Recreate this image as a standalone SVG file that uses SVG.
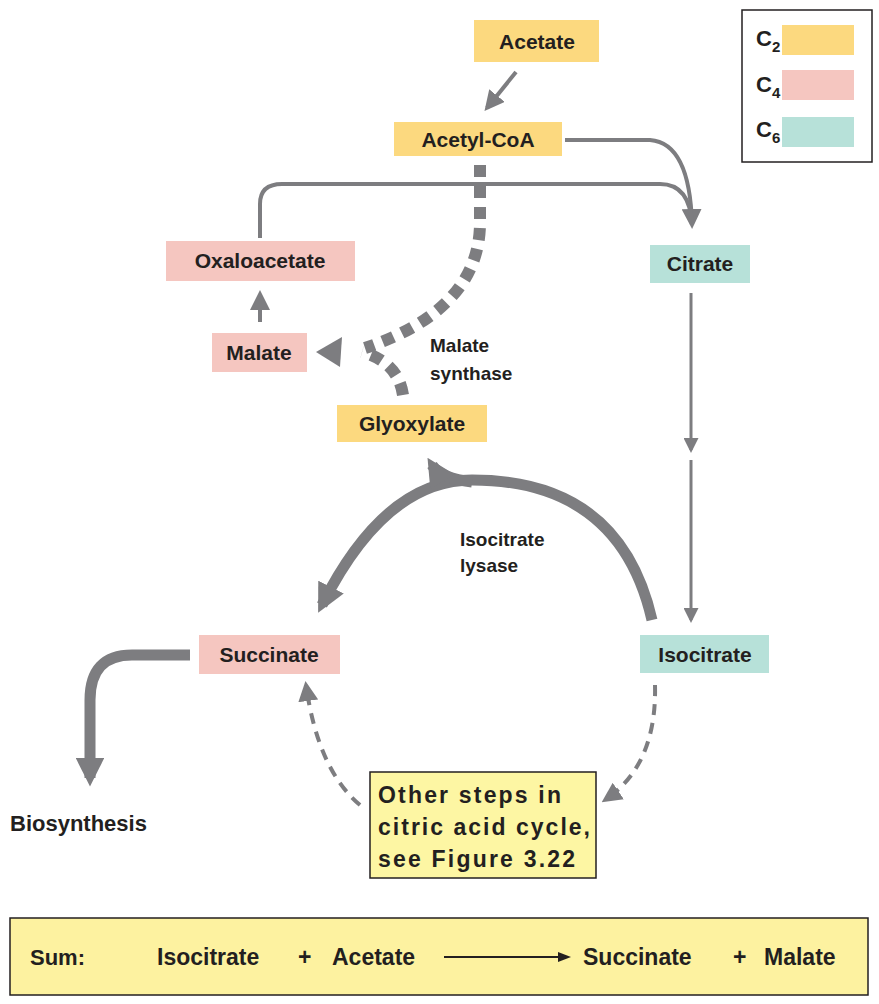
<svg xmlns="http://www.w3.org/2000/svg" width="879" height="1004" viewBox="0 0 879 1004">
<style>
text{font-family:"Liberation Sans",Arial,sans-serif;font-weight:bold;fill:#231f20}
.n{font-size:21px;text-anchor:middle}
.c2{fill:#fcd97f}.c4{fill:#f5c6c0}.c6{fill:#b7e1d9}
.ln{fill:none;stroke:#7d7d80}
.lbl{font-size:19px}
</style>
<defs>
<marker id="a" viewBox="0 0 10 10" refX="8" refY="5" markerWidth="5" markerHeight="5" orient="auto" markerUnits="strokeWidth"><path d="M0,0L10,5L0,10z" fill="#7d7d80"/></marker>
<marker id="b" viewBox="0 0 10 10" refX="7" refY="5" markerWidth="2.6" markerHeight="2.6" orient="auto" markerUnits="strokeWidth"><path d="M0,0L10,5L0,10z" fill="#7d7d80"/></marker>
</defs>
<rect width="879" height="1004" fill="#fff"/>
<g id="connectors">
<path class="ln" stroke-width="4" d="M516,72L487,108" marker-end="url(#a)"/>
<path class="ln" stroke-width="4" d="M565,140L650,140Q690,143 692,225" marker-end="url(#a)"/>
<path class="ln" stroke-width="4" d="M260,238L260,204Q260,184 282,184L660,184Q690,184 692,225"/>
<path class="ln" stroke-width="4" d="M260,322L260,294" marker-end="url(#a)"/>
<path class="ln" stroke-width="3" d="M691,293L691,450" marker-end="url(#a)"/>
<path class="ln" stroke-width="3" d="M691,460L691,620" marker-end="url(#a)"/>
<path class="ln" stroke-width="12" stroke-dasharray="12,9" d="M480,165L480,225Q478,310 365,348"/>
<path class="ln" stroke-width="12" stroke-dasharray="12,9" d="M403,395Q398,362 362,352"/>
<path d="M316,352L342,337L340,367z" fill="#7d7d80"/>
<path class="ln" stroke-width="11" d="M652,620Q620,480 472,480Q385,480 322,605" marker-end="url(#b)"/>
<path class="ln" stroke-width="11" d="M472,482Q440,478 432,465" marker-end="url(#b)"/>
<path class="ln" stroke-width="11" d="M190,655L132,655Q90,655 90,700L90,778" marker-end="url(#b)"/>
<path class="ln" stroke-width="4" stroke-dasharray="11,8" d="M655,685Q657,765 605,800" marker-end="url(#a)"/>
<path class="ln" stroke-width="4" stroke-dasharray="11,8" d="M360,805Q318,770 306,685" marker-end="url(#a)"/>
</g>
<g id="acetate"><rect class="c2" x="474" y="20" width="125" height="42"/><text class="n" x="537" y="49">Acetate</text></g>
<g id="acetylcoa"><rect class="c2" x="394" y="122" width="168" height="34"/><text class="n" x="478" y="147">Acetyl-CoA</text></g>
<g id="oxaloacetate"><rect class="c4" x="166" y="241" width="189" height="40"/><text class="n" x="260" y="268">Oxaloacetate</text></g>
<g id="citrate"><rect class="c6" x="650" y="245" width="100" height="38"/><text class="n" x="700" y="271">Citrate</text></g>
<g id="malate"><rect class="c4" x="212" y="333" width="95" height="39"/><text class="n" x="259" y="360">Malate</text></g>
<g id="glyoxylate"><rect class="c2" x="337" y="405" width="150" height="37"/><text class="n" x="412" y="431">Glyoxylate</text></g>
<g id="succinate"><rect class="c4" x="199" y="635" width="141" height="39"/><text class="n" x="269" y="662">Succinate</text></g>
<g id="isocitrate"><rect class="c6" x="640" y="635" width="129" height="38"/><text class="n" x="705" y="662">Isocitrate</text></g>
<g id="biosynthesis"><text x="10" y="831" font-size="22">Biosynthesis</text></g>
<g id="otherSteps"><rect x="370" y="772" width="226" height="106" fill="#fdf6a3" stroke="#231f20" stroke-width="1.5"/>
<text x="378" y="803" font-size="23" textLength="183">Other steps in</text>
<text x="378" y="835" font-size="23" textLength="212">citric acid cycle,</text>
<text x="378" y="867" font-size="23" textLength="197">see Figure 3.22</text></g>
<g id="labels">
<text class="lbl" x="430" y="352">Malate</text><text class="lbl" x="430" y="380">synthase</text>
<text class="lbl" x="460" y="546">Isocitrate</text><text class="lbl" x="460" y="572">lysase</text>
</g>
<g id="legend"><rect x="742" y="10" width="130" height="152" fill="#fff" stroke="#231f20" stroke-width="1.5"/>
<text x="756" y="46" font-size="22">C<tspan font-size="15" dy="6">2</tspan></text><rect class="c2" x="782" y="25" width="72" height="30"/>
<text x="756" y="92" font-size="22">C<tspan font-size="15" dy="6">4</tspan></text><rect class="c4" x="782" y="70" width="72" height="30"/>
<text x="756" y="137" font-size="22">C<tspan font-size="15" dy="6">6</tspan></text><rect class="c6" x="782" y="117" width="72" height="30"/>
</g>
<g id="sum"><rect x="10" y="918" width="858" height="77" fill="#fdf2a0" stroke="#231f20" stroke-width="1.5"/>
<text x="30" y="965" font-size="22">Sum:</text>
<text x="157" y="965" font-size="23" font-weight="normal" style="font-weight:600">Isocitrate</text>
<text x="298" y="965" font-size="23">+</text>
<text x="332" y="965" font-size="23">Acetate</text>
<path d="M444,957L562,957" stroke="#231f20" stroke-width="2" fill="none"/><path d="M571,957L558,952L558,962z" fill="#231f20"/>
<text x="583" y="965" font-size="23">Succinate</text>
<text x="733" y="965" font-size="23">+</text>
<text x="764" y="965" font-size="23">Malate</text>
</g>
</svg>
